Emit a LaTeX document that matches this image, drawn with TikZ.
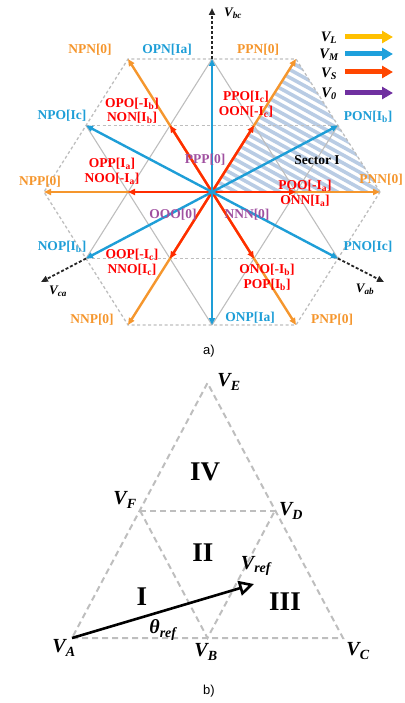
\documentclass[tikz,border=0pt]{standalone}
\usepackage{fontspec}
\setmainfont{Liberation Serif}
\newfontfamily\capfont{Liberation Sans}
\usetikzlibrary{arrows.meta,calc}
\definecolor{cL}{RGB}{245,150,45}
\definecolor{cM}{RGB}{30,158,215}
\definecolor{cS}{RGB}{255,45,0}
\definecolor{cRed}{RGB}{255,0,0}
\definecolor{cZ}{RGB}{160,80,160}
\definecolor{legY}{RGB}{255,192,0}
\definecolor{legB}{RGB}{30,160,220}
\definecolor{legR}{RGB}{255,70,0}
\definecolor{legP}{RGB}{112,48,160}
\definecolor{hatchc}{RGB}{185,204,228}
\definecolor{gr}{RGB}{190,190,190}
\begin{document}
\begin{tikzpicture}[x=1pt,y=-1pt,
  hexd/.style={gr, line width=1.3pt, dash pattern=on 3pt off 2.5pt},
  grid/.style={gr, line width=1.1pt},
  vecL/.style={cL, line width=2.4pt, -{Triangle[length=7pt,width=6pt]}},
  vecM/.style={cM, line width=2.4pt, -{Triangle[length=7pt,width=6pt]}},
  vecS/.style={cS, line width=2.4pt, -{Triangle[length=7pt,width=6pt]}},
  vdash/.style={black!85, line width=1.8pt, dash pattern=on 3pt off 2pt, -{Triangle[length=7pt,width=6pt]}},
  lab/.style={inner sep=0pt, font=\fontsize{13.5}{14.5}\selectfont\bfseries, align=center},
  lo/.style={lab, text=cL},
  lb/.style={lab, text=cM},
  lr/.style={lab, text=cRed},
  lp/.style={lab, text=cZ},
  lk/.style={lab, text=black},
  leg/.style={inner sep=0pt, font=\fontsize{14.5}{16}\selectfont\bfseries\itshape},
  legar/.style={line width=5pt, -{Triangle[length=11pt,width=12pt]}},
  bd/.style={gr, line width=2pt, dash pattern=on 6pt off 4pt},
  mb/.style={inner sep=0pt, font=\fontsize{20}{22}\selectfont\bfseries\itshape},
  rom/.style={inner sep=0pt, font=\fontsize{27}{30}\selectfont\bfseries},
  captxt/.style={inner sep=0pt, font=\capfont\fontsize{13}{15}\selectfont}
]
\useasboundingbox (0,0) rectangle (404,703);
% ---------- part a ----------
\coordinate (O) at (212,192);
\coordinate (PNN) at (380,192);
\coordinate (PPN) at (296,59);
\coordinate (NPN) at (128,59);
\coordinate (NPP) at (44,192);
\coordinate (NNP) at (128,325);
\coordinate (PNP) at (296,325);
\coordinate (OPN) at (212,59);
\coordinate (PON) at (338,125.5);
\coordinate (NPO) at (86,125.5);
\coordinate (NOP) at (86,258.5);
\coordinate (ONP) at (212,325);
\coordinate (PNO) at (338,258.5);
\coordinate (POO) at (296,192);
\coordinate (PPO) at (254,125.5);
\coordinate (OPO) at (170,125.5);
\coordinate (OPP) at (128,192);
\coordinate (OOP) at (170,258.5);
\coordinate (ONO) at (254,258.5);
\coordinate (Vbc) at (212,8);
\coordinate (Vab) at (384,282);
\coordinate (Vca) at (41,282);
% hatch sector I
\begin{scope}
  \clip (O) -- (PPN) -- (PNN) -- cycle;
  \foreach \b in {-130,-122,...,75}
    \draw[hatchc, line width=3.6pt] (200,110+\b) -- (390,215+\b);
\end{scope}
% grid
\draw[grid] (OPN) -- (PNO);
\draw[grid] (NPO) -- (ONP);
\draw[grid] (NOP) -- (OPN);
\draw[grid] (ONP) -- (PON);
\draw[hexd] (PNN) -- (PPN) -- (NPN) -- (NPP) -- (NNP) -- (PNP) -- cycle;
\draw[hexd] (NPO) -- (PON);
\draw[hexd] (NOP) -- (PNO);
% dashed phase axes
\draw[vdash] (OPN) -- (Vbc);
\draw[vdash] (PNO) -- (Vab);
\draw[vdash] (NOP) -- (Vca);
% large vectors
\foreach \t in {PNN,PPN,NPN,NPP,NNP,PNP} \draw[vecL] (O) -- (\t);
% small vectors
\foreach \t in {POO,PPO,OPO,OPP,OOP,ONO} \draw[vecS] (O) -- (\t);
% medium vectors
\foreach \t in {OPN,PON,NPO,NOP,ONP,PNO} \draw[vecM] (O) -- (\t);
% labels
\node[lo] (lNPN) at (90,50) {NPN[0]};
\node[lb] (lOPN) at (167,50) {OPN[Ia]};
\node[lo] (lPPN) at (258,50) {PPN[0]};
\node[lb] (lNPO) at (62,116) {NPO[Ic]};
\node[lr] (lOPO) at (132,111) {OPO[-I\textsubscript{b}]\\NON[I\textsubscript{b}]};
\node[lr] (lPPO) at (246,104.5) {PPO[I\textsubscript{c}]\\OON[-I\textsubscript{c}]};
\node[lb] (lPON) at (368,117) {PON[I\textsubscript{b}]};
\node[lp] (lPPP) at (205,160) {PPP[0]};
\node[lk] (lsec) at (317,160) {Sector I};
\node[lr] (lOPP) at (112,171.5) {OPP[I\textsubscript{a}]\\NOO[-I\textsubscript{a}]};
\node[lo] (lNPP) at (40,182) {NPP[0]};
\node[lo] (lPNN) at (381,180) {PNN[0]};
\node[lr] (lPOO) at (305,193.5) {POO[-I\textsubscript{a}]\\ONN[I\textsubscript{a}]};
\node[lp] (lOOO) at (173,215) {OOO[0]};
\node[lp] (lNNN) at (247,215) {NNN[0]};
\node[lb] (lNOP) at (62,247) {NOP[I\textsubscript{b}]};
\node[lb] (lPNO) at (368,247) {PNO[Ic]};
\node[lr] (lOOP) at (132,262.5) {OOP[-I\textsubscript{c}]\\NNO[I\textsubscript{c}]};
\node[lr] (lONO) at (267,277.5) {ONO[-I\textsubscript{b}]\\POP[I\textsubscript{b}]};
\node[lo] (lNNP) at (92,320) {NNP[0]};
\node[lb] (lONP) at (250,318) {ONP[Ia]};
\node[lo] (lPNP) at (332,320) {PNP[0]};
\node[leg, font=\fontsize{13}{15}\selectfont\bfseries\itshape] (lVbc) at (233,13) {V\textsubscript{bc}};
\node[leg, font=\fontsize{13}{15}\selectfont\bfseries\itshape] (lVab) at (365,289) {V\textsubscript{ab}};
\node[leg, font=\fontsize{13}{15}\selectfont\bfseries\itshape] (lVca) at (58,291) {V\textsubscript{ca}};
% legend
\node[leg] (tL) at (329,38) {V\textsubscript{L}};
\node[leg] (tM) at (329,55) {V\textsubscript{M}};
\node[leg] (tS) at (329,74) {V\textsubscript{S}};
\node[leg] (tZ) at (329,94) {V\textsubscript{0}};
\coordinate (aL1) at (345,37); \coordinate (aL2) at (393,37);
\coordinate (aM1) at (345,54); \coordinate (aM2) at (393,54);
\coordinate (aS1) at (345,72); \coordinate (aS2) at (393,72);
\coordinate (aZ1) at (345,93); \coordinate (aZ2) at (393,93);
\draw[legar, legY] (aL1) -- (aL2);
\draw[legar, legB] (aM1) -- (aM2);
\draw[legar, legR] (aS1) -- (aS2);
\draw[legar, legP] (aZ1) -- (aZ2);
\node[captxt] (capa) at (209,351) {a)};
% ---------- part b ----------
\coordinate (A) at (72,638);
\coordinate (B) at (207.5,638);
\coordinate (C) at (343,638);
\coordinate (D) at (275,510.5);
\coordinate (F) at (140,510.5);
\coordinate (E) at (207.5,383);
\coordinate (R) at (254,584);
\draw[bd] (A) -- (C) -- (E) -- cycle;
\draw[bd] (F) -- (D);
\draw[bd] (F) -- (B) -- (D);
\draw[black, line width=2.6pt, -{Triangle[open, length=15pt, width=15pt, fill=white]}] (A) -- (R);
\node[mb] (lE) at (229,382) {V\textsubscript{E}};
\node[mb] (lF) at (125,500) {V\textsubscript{F}};
\node[mb] (lD) at (291,511) {V\textsubscript{D}};
\node[mb] (lA) at (64,648) {V\textsubscript{A}};
\node[mb] (lB) at (206,652) {V\textsubscript{B}};
\node[mb] (lC) at (358,651) {V\textsubscript{C}};
\node[mb] (lref) at (256,566) {V\textsubscript{ref}};
\node[mb] (lth) at (163,630) {θ\textsubscript{ref}};
\node[rom] (rIV) at (205,472) {IV};
\node[rom] (rII) at (203,553) {II};
\node[rom] (rI) at (142,597) {I};
\node[rom] (rIII) at (285,602) {III};
\node[captxt] (capb) at (209,691) {b)};
\end{tikzpicture}
\end{document}
